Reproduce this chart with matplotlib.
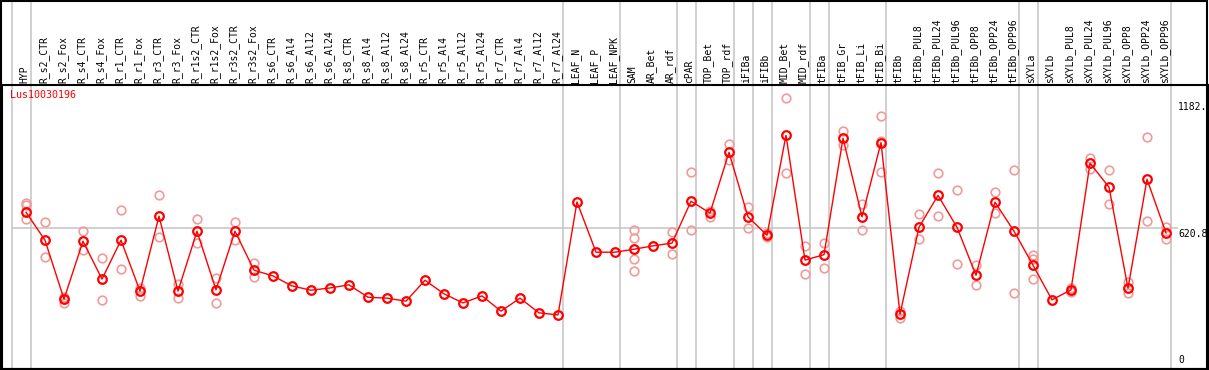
import numpy as np
import matplotlib
matplotlib.use("Agg")
import matplotlib.pyplot as plt
from matplotlib.patches import Rectangle
import matplotlib.transforms as mtransforms

gene = "Lus10030196"

categories = [
    "HYP", "R_s2_CTR", "R_s2_Fox", "R_s4_CTR", "R_s4_Fox", "R_r1_CTR", "R_r1_Fox",
    "R_r3_CTR", "R_r3_Fox", "R_r1s2_CTR", "R_r1s2_Fox", "R_r3s2_CTR", "R_r3s2_Fox",
    "R_s6_CTR", "R_s6_Al4", "R_s6_Al12", "R_s6_Al24", "R_s8_CTR", "R_s8_Al4",
    "R_s8_Al12", "R_s8_Al24", "R_r5_CTR", "R_r5_Al4", "R_r5_Al12", "R_r5_Al24",
    "R_r7_CTR", "R_r7_Al4", "R_r7_Al12", "R_r7_Al24", "LEAF_N", "LEAF_P", "LEAF_NPK",
    "SAM", "AR_Bet", "AR_rdf", "cPAR", "TOP_Bet", "TOP_rdf", "iFIBa", "iFIBb",
    "MID_Bet", "MID_rdf", "tFIBa", "tFIB_Gr", "tFIB_Li", "tFIB_Bi", "tFIBb",
    "tFIBb_PUL8", "tFIBb_PUL24", "tFIBb_PUL96", "tFIBb_OPP8", "tFIBb_OPP24",
    "tFIBb_OPP96", "sXYLa", "sXYLb", "sXYLb_PUL8", "sXYLb_PUL24", "sXYLb_PUL96",
    "sXYLb_OPP8", "sXYLb_OPP24", "sXYLb_OPP96",
]

means = [
    691.5, 568, 307.6, 563.5, 396, 568, 343, 674, 343, 607.5, 348.6, 607.5, 435.5,
    410, 366, 347, 357, 370.7, 316, 312, 298.7, 391, 331, 291, 322, 254.6, 312, 247, 238,
    737, 515, 515, 528, 543, 555, 740, 688, 956, 671, 590, 1031, 480, 504,
    1018, 671, 999, 241, 625, 766, 625, 413, 736, 607.5, 457.5, 304.5,
    348.6, 908, 802, 356, 837, 600,
]

replicates = [
    [731, 722, 662], [647, 493], [319, 290], [609, 525], [488, 303], [700, 441],
    [357, 323], [766, 581], [376, 312], [661, 555], [403, 291], [647, 568], [469, 405],
    [], [], [], [], [], [], [], [], [], [], [], [], [], [], [], [],
    [], [], [],
    [613, 579, 484, 431], [], [603, 507], [868, 612], [699, 672], [993, 922],
    [715, 621], [599, 584], [1195, 864], [543, 418], [556, 444],
    [1050, 988], [727, 612], [1115, 1008, 868], [256, 225],
    [683, 572], [864, 674], [789, 462], [459, 369], [780, 687], [877, 335],
    [503, 485, 396], [], [359, 341], [930, 884], [878, 727], [385, 334],
    [1022, 653], [628, 572],
]

group_starts = [0, 1, 29, 32, 35, 36, 38, 39, 40, 42, 43, 46, 53, 54, 61]
ytick_values = [1182, 620.8, 0]
ytick_labels = ["1182.", "620.8", "0"]

FONT = "DejaVu Sans Mono"
W, H = 1209, 370
fig = plt.figure(figsize=(W / 100, H / 100), dpi=100)

# plot region in pixels
left_px, right_px, top_px, bot_px = 1.7, 1207.7, 85.3, 368.8
ax = fig.add_axes([left_px / W, 1 - bot_px / H, (right_px - left_px) / W, (bot_px - top_px) / H])
ax.set_xlim((left_px - 26) / 19, (right_px - 26) / 19)
ax.set_ylim(0, 1252)
ax.set_xticks([])
ax.set_yticks([])
for s in ax.spines.values():
    s.set_color("black")
    s.set_linewidth(1.5)

header_frac = top_px / (bot_px - top_px)

# group separators
for g in group_starts:
    ax.axvline(g - 0.763, ymin=0, ymax=1 + header_frac, clip_on=False,
               color="#c4c4c4", lw=1.1, zorder=1)

# gridline at mid tick
ax.plot([group_starts[0] - 0.763, 60.6], [ytick_values[1]] * 2, color="#c4c4c4", lw=1.1, zorder=1)

x = np.arange(len(categories))
rx, ry = [], []
for i, reps in enumerate(replicates):
    for v in reps:
        rx.append(i)
        ry.append(v)
ax.plot(rx, ry, linestyle="none", marker="o", ms=6.2, mfc="none",
        mec="#f09a9a", mew=1.2, zorder=2)

ax.plot(x, means, color="#ff0000", lw=1.0, marker="o", ms=6.2, mfc="none",
        mec="#ff0000", mew=1.6, zorder=3)

# category labels in header
tr = mtransforms.blended_transform_factory(ax.transData, ax.transAxes)
for i, c in enumerate(categories):
    ax.text(i - 0.08, 1 + 2.0 / (bot_px - top_px), c, rotation=90, ha="center", va="bottom",
            fontsize=7, family=FONT, transform=tr, color="black", clip_on=False)

# gene label
ax.text(0.0069, 0.965, gene, color="#ff0000", fontsize=7.2, family=FONT,
        ha="left", va="center", transform=ax.transAxes)

# y tick labels on the right
for v, lab in zip(ytick_values, ytick_labels):
    if v == 0:
        ax.text(60.63, v, lab, fontsize=7, family=FONT, ha="left", va="bottom",
                transform=ax.transData + mtransforms.ScaledTranslation(0, 4 / 100, fig.dpi_scale_trans))
    else:
        ax.text(60.63, v, lab, fontsize=7, family=FONT, ha="left", va="top",
                transform=ax.transData + mtransforms.ScaledTranslation(0, -1 / 100, fig.dpi_scale_trans))

# outer frame
fig.patches.append(Rectangle((0.6 / W, 1.0 - 369.0 / H), 1206.5 / W, 368.0 / H, transform=fig.transFigure,
                             fill=False, edgecolor="black", lw=1.5))

fig.savefig("out.png", dpi=100, facecolor="white")
